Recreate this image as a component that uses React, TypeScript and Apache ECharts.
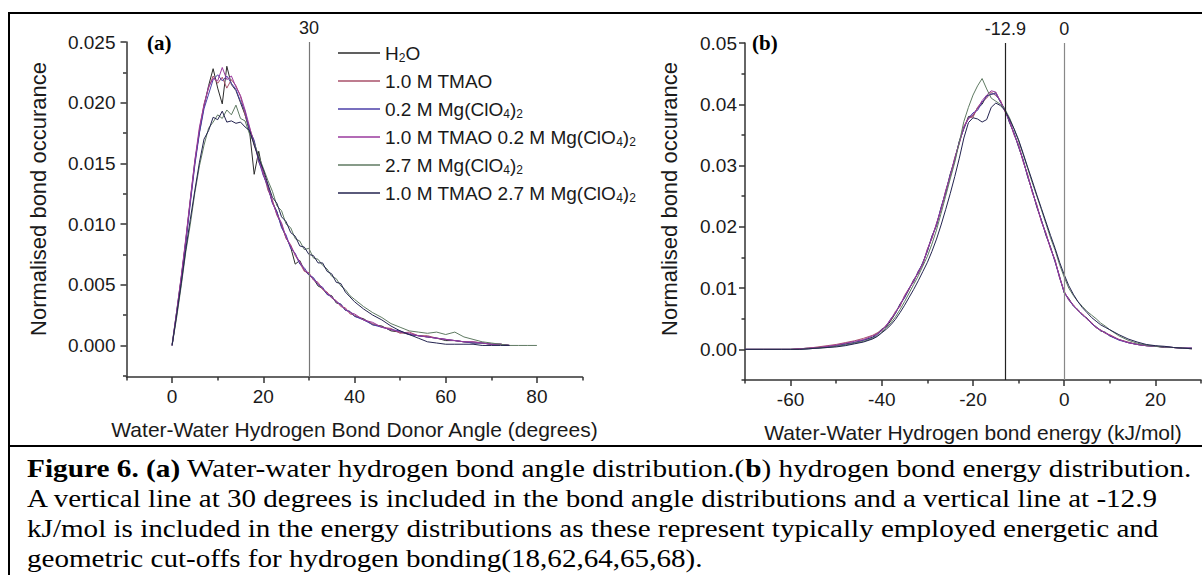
import React, { useEffect, useRef } from "react";
import * as echarts from "echarts";

// ---------- data ----------
const angleX = [0,1,2,3,4,5,6,7,8,9,10,11,12,13,14,15,16,17,18,19,20,21,22,23,24,25,26,27,28,29,30,31,32,33,34,35,36,37,38,39,40,42,44,46,48,50,52,54,56,58,60,62,64,66,68,70,72,74,76,78,80];

const angleH2O = [0.0001,0.0028,0.0056,0.0086,0.0120,0.0152,0.0176,0.0197,0.0214,0.0228,0.0212,0.0199,0.0230,0.0215,0.0210,0.0200,0.0190,0.0176,0.0141,0.0160,0.0141,0.0131,0.0118,0.0110,0.0098,0.0089,0.0081,0.0067,0.0070,0.0062,0.0058,0.0055,0.0049,0.0047,0.0042,0.0041,0.0035,0.0034,0.0029,0.0028,0.0024,0.0022,0.0017,0.0016,0.0012,0.0011,0.0009,0.0008,0.0007,0.0006,0.0004,0.0004,0.0003,0.0002,0.0002,0.0001,0.0001,0.0000];
const angleTMAO = [0,0.0026,0.0055,0.0087,0.0119,0.0150,0.0178,0.0199,0.0212,0.0222,0.0216,0.0221,0.0212,0.0219,0.0214,0.0205,0.0190,0.0179,0.0168,0.0151,0.0143,0.0128,0.0120,0.0107,0.0100,0.0088,0.0083,0.0074,0.0068,0.0061,0.0060,0.0054,0.0052,0.0046,0.0044,0.0039,0.0037,0.0032,0.0031,0.0026,0.0025,0.0021,0.0018,0.0015,0.0014,0.0010,0.0011,0.0008,0.0008,0.0006,0.0005,0.0004,0.0003,0.0003,0.0002,0.0001,0.0001,0];
const angleMg02 = [0,0.0027,0.0054,0.0084,0.0117,0.0149,0.0175,0.0195,0.0207,0.0219,0.0223,0.0218,0.0222,0.0216,0.0211,0.0201,0.0193,0.0177,0.0169,0.0152,0.0140,0.0131,0.0117,0.0110,0.0097,0.0091,0.0080,0.0076,0.0067,0.0064,0.0058,0.0056,0.0050,0.0048,0.0042,0.0040,0.0036,0.0034,0.0029,0.0028,0.0024,0.0021,0.0017,0.0015,0.0013,0.0012,0.0009,0.0008,0.0007,0.0006,0.0005,0.0004,0.0003,0.0002,0.0002,0.0001,0.0001,0];
const angleTMAOMg02 = [0,0.0028,0.0057,0.0088,0.0121,0.0153,0.0180,0.0198,0.0213,0.0220,0.0218,0.0229,0.0219,0.0222,0.0213,0.0206,0.0194,0.0180,0.0165,0.0155,0.0141,0.0132,0.0118,0.0108,0.0101,0.0089,0.0082,0.0075,0.0069,0.0062,0.0059,0.0054,0.0051,0.0047,0.0043,0.0040,0.0036,0.0033,0.0030,0.0027,0.0026,0.0021,0.0019,0.0015,0.0013,0.0011,0.0010,0.0008,0.0007,0.0006,0.0005,0.0004,0.0003,0.0003,0.0002,0.0001,0.0001,0];
const angleMg27 = [0,0.0023,0.0049,0.0077,0.0100,0.0126,0.0148,0.0165,0.0179,0.0184,0.0190,0.0187,0.0194,0.0190,0.0198,0.0187,0.0185,0.0174,0.0167,0.0156,0.0146,0.0136,0.0127,0.0115,0.0111,0.0100,0.0097,0.0088,0.0086,0.0079,0.0080,0.0072,0.0071,0.0066,0.0063,0.0057,0.0055,0.0049,0.0046,0.0041,0.0038,0.0032,0.0027,0.0023,0.0018,0.0015,0.0012,0.0011,0.0010,0.0011,0.0009,0.0011,0.0007,0.0005,0.0003,0.0002,0.0001,0,0,0,0];
const angleTMAOMg27 = [0,0.0025,0.0051,0.0079,0.0104,0.0128,0.0151,0.0170,0.0177,0.0188,0.0186,0.0193,0.0184,0.0185,0.0183,0.0184,0.0180,0.0177,0.0165,0.0154,0.0145,0.0133,0.0122,0.0117,0.0106,0.0102,0.0093,0.0090,0.0082,0.0081,0.0075,0.0074,0.0068,0.0068,0.0061,0.0059,0.0052,0.0051,0.0044,0.0040,0.0036,0.0030,0.0025,0.0021,0.0016,0.0012,0.0009,0.0006,0.0003,0.0002,0.0001,0.0001,0.0001,0.0001,0,0,0,0];

const energyX = [-70,-66,-62,-60,-58,-56,-54,-52,-50,-48,-46,-44,-42,-41,-40,-39,-38,-37,-36,-35,-34,-33,-32,-31,-30,-29,-28,-27,-26,-25,-24,-23,-22,-21,-20,-19,-18,-17,-16,-15,-14,-13,-12,-11,-10,-9,-8,-7,-6,-5,-4,-3,-2,-1,0,1,2,3,4,5,6,7,8,9,10,12,14,16,18,20,22,24,26,28];

const energyH2O = [0,0,0,0,0.0001,0.0002,0.0003,0.0004,0.0006,0.0009,0.0011,0.0015,0.0020,0.0026,0.0033,0.0037,0.0047,0.0059,0.0074,0.0085,0.0098,0.0114,0.0124,0.0142,0.0160,0.0185,0.0202,0.0231,0.0255,0.0286,0.0309,0.0340,0.0360,0.0380,0.0381,0.0394,0.0400,0.0414,0.0416,0.0419,0.0404,0.0392,0.0370,0.0353,0.0330,0.0309,0.0281,0.0259,0.0232,0.0211,0.0186,0.0167,0.0143,0.0119,0.0092,0.0083,0.0071,0.0065,0.0056,0.0051,0.0042,0.0037,0.0030,0.0028,0.0022,0.0016,0.0011,0.0008,0.0006,0.0005,0.0003,0.0003,0.0002,0.0002];
const energyTMAO = [0,0,0,0,0.0001,0.0002,0.0004,0.0006,0.0008,0.0011,0.0014,0.0018,0.0023,0.0027,0.0030,0.0040,0.0048,0.0062,0.0070,0.0088,0.0100,0.0110,0.0128,0.0138,0.0164,0.0181,0.0206,0.0228,0.0259,0.0282,0.0313,0.0336,0.0364,0.0378,0.0379,0.0395,0.0404,0.0410,0.0420,0.0414,0.0407,0.0388,0.0374,0.0350,0.0334,0.0306,0.0285,0.0256,0.0236,0.0208,0.0190,0.0164,0.0146,0.0116,0.0095,0.0080,0.0073,0.0063,0.0058,0.0049,0.0044,0.0035,0.0032,0.0026,0.0024,0.0016,0.0012,0.0008,0.0006,0.0005,0.0004,0.0003,0.0002,0.0001];
const energyMg02 = [0,0,0,0,0,0.0001,0.0002,0.0004,0.0006,0.0008,0.0011,0.0015,0.0019,0.0024,0.0031,0.0038,0.0050,0.0059,0.0073,0.0084,0.0100,0.0111,0.0127,0.0141,0.0161,0.0184,0.0203,0.0232,0.0256,0.0285,0.0310,0.0339,0.0361,0.0377,0.0386,0.0390,0.0403,0.0413,0.0417,0.0417,0.0404,0.0391,0.0371,0.0353,0.0331,0.0309,0.0282,0.0259,0.0233,0.0211,0.0187,0.0166,0.0143,0.0117,0.0093,0.0081,0.0071,0.0064,0.0056,0.0050,0.0042,0.0036,0.0031,0.0027,0.0022,0.0015,0.0011,0.0008,0.0006,0.0005,0.0004,0.0003,0.0002,0.0002];
const energyTMAOMg02 = [0,0,0,0,0.0001,0.0002,0.0003,0.0005,0.0007,0.0010,0.0013,0.0016,0.0022,0.0025,0.0032,0.0039,0.0050,0.0060,0.0072,0.0087,0.0099,0.0113,0.0125,0.0140,0.0163,0.0182,0.0205,0.0229,0.0258,0.0283,0.0312,0.0337,0.0363,0.0376,0.0383,0.0393,0.0406,0.0415,0.0422,0.0420,0.0405,0.0389,0.0373,0.0351,0.0333,0.0307,0.0284,0.0257,0.0235,0.0209,0.0189,0.0165,0.0145,0.0118,0.0094,0.0082,0.0072,0.0064,0.0057,0.0050,0.0043,0.0036,0.0031,0.0027,0.0023,0.0016,0.0011,0.0008,0.0006,0.0005,0.0004,0.0003,0.0002,0.0002];
const energyMg27 = [0,0,0,0,0,0.0001,0.0002,0.0003,0.0005,0.0007,0.0010,0.0013,0.0018,0.0022,0.0028,0.0035,0.0043,0.0053,0.0065,0.0078,0.0092,0.0106,0.0120,0.0136,0.0152,0.0172,0.0195,0.0222,0.0250,0.0278,0.0305,0.0338,0.0372,0.0395,0.0415,0.0430,0.0442,0.0425,0.0410,0.0405,0.0400,0.0392,0.0378,0.0360,0.0340,0.0318,0.0295,0.0272,0.0250,0.0228,0.0205,0.0182,0.0162,0.0138,0.0118,0.0100,0.0088,0.0078,0.0070,0.0062,0.0056,0.0050,0.0043,0.0038,0.0032,0.0022,0.0015,0.0010,0.0007,0.0005,0.0004,0.0003,0.0002,0.0001];
const energyTMAOMg27 = [0,0,0,0,0,0.0001,0.0002,0.0003,0.0004,0.0006,0.0009,0.0012,0.0017,0.0021,0.0027,0.0033,0.0040,0.0049,0.0060,0.0072,0.0085,0.0098,0.0112,0.0127,0.0142,0.0160,0.0180,0.0203,0.0228,0.0254,0.0282,0.0312,0.0345,0.0370,0.0378,0.0376,0.0371,0.0375,0.0395,0.0402,0.0398,0.0390,0.0376,0.0360,0.0342,0.0320,0.0297,0.0275,0.0252,0.0230,0.0208,0.0186,0.0165,0.0142,0.0122,0.0104,0.0090,0.0078,0.0068,0.0060,0.0052,0.0046,0.0040,0.0036,0.0032,0.0024,0.0017,0.0012,0.0008,0.0006,0.0005,0.0003,0.0002,0.0001];

const seriesNames = [
  "H2O",
  "1.0 M TMAO",
  "0.2 M Mg(ClO4)2",
  "1.0 M TMAO 0.2 M Mg(ClO4)2",
  "2.7 M Mg(ClO4)2",
  "1.0 M TMAO 2.7 M Mg(ClO4)2",
];
const seriesColors = ["#2b2b2b", "#a8506a", "#4b3fa8", "#9a3a9e", "#5f7a62", "#23234f"];

const angleSeries = [angleH2O, angleTMAO, angleMg02, angleTMAOMg02, angleMg27, angleTMAOMg27];
const energySeries = [energyH2O, energyTMAO, energyMg02, energyTMAOMg02, energyMg27, energyTMAOMg27];

const angleMajorTicks = [0, 20, 40, 60, 80];
const angleMinorTicks = [-10, 10, 30, 50, 70, 90];
const angleYMajor = [0, 0.005, 0.01, 0.015, 0.02, 0.025];
const angleYMinor = [-0.0025, 0.0025, 0.0075, 0.0125, 0.0175, 0.0225];
const energyMajorTicks = [-60, -40, -20, 0, 20];
const energyMinorTicks = [-70, -50, -30, -10, 10, 30];
const energyYMajor = [0, 0.01, 0.02, 0.03, 0.04, 0.05];
const energyYMinor = [-0.005, 0.005, 0.015, 0.025, 0.035, 0.045];

const angleCutoff = 30;
const energyCutoffs = [-12.9, 0];

const captionLines = [
  "{b|Figure 6. (a)} Water-water hydrogen bond angle distribution.({b|b}) hydrogen bond energy distribution.",
  "A vertical line at 30 degrees is included in the bond angle distributions and a vertical line at -12.9",
  "kJ/mol is included in the energy distributions as these represent typically employed energetic and",
  "geometric cut-offs for hydrogen bonding(18,62,64,65,68).",
];
const captionScaleX = [1.172, 1.162, 1.165, 1.164];

const SANS = '"Liberation Sans", Arial, sans-serif';
const SERIF = '"Liberation Serif", "Times New Roman", serif';
const AXIS_COLOR = "#333";
const TEXT_COLOR = "#1a1a1a";

function richName(name: string) {
  return name.replace("H2O", "H{s|2}O").replace("ClO4)2", "ClO{s|4}){s|2}");
}

function valueAxis(opts: any) {
  const { gridIndex, min, max, position, ticks, labels, tickLen, showLine, labelFmt, margin, name, nameGap } = opts;
  return {
    type: "value",
    gridIndex,
    min,
    max,
    position,
    splitLine: { show: false },
    axisLine: { show: showLine, onZero: false, lineStyle: { color: AXIS_COLOR, width: 1.5 } },
    axisTick: { show: true, inside: false, length: tickLen, customValues: ticks, lineStyle: { color: AXIS_COLOR, width: 1.5 } },
    axisLabel: labels
      ? { show: true, customValues: labels, formatter: labelFmt, margin, fontSize: 19, color: TEXT_COLOR, fontFamily: SANS }
      : { show: false },
    name: name || "",
    nameLocation: "middle",
    nameGap: nameGap || 0,
    nameTextStyle: { fontSize: 21, color: TEXT_COLOR, fontFamily: SANS },
  };
}

export default function App() {
  const ref = useRef<HTMLDivElement>(null);
  useEffect(() => {
    if (!ref.current) return;
    const chart = echarts.init(ref.current, undefined, { renderer: "svg" });

    const series: any[] = [];
    angleSeries.forEach((ys, i) => {
      const s: any = {
        type: "line",
        name: seriesNames[i],
        xAxisIndex: 0,
        yAxisIndex: 0,
        symbol: "none",
        silent: true,
        data: angleX.map((x, j) => [x, ys[j]]).filter((d) => d[1] !== undefined),
        lineStyle: { width: 1, color: seriesColors[i] },
        itemStyle: { color: seriesColors[i] },
      };
      if (i === 0) {
        s.markLine = {
          silent: true,
          symbol: ["none", "none"],
          animation: false,
          data: [{ xAxis: angleCutoff }],
          lineStyle: { color: "#777", width: 1.2, type: "solid" },
          label: { show: true, position: "end", formatter: String(angleCutoff), fontSize: 18, color: TEXT_COLOR, distance: 5, fontFamily: SANS },
        };
      }
      series.push(s);
    });
    energySeries.forEach((ys, i) => {
      const s: any = {
        type: "line",
        name: seriesNames[i],
        xAxisIndex: 2,
        yAxisIndex: 2,
        symbol: "none",
        silent: true,
        data: energyX.map((x, j) => [x, ys[j]]).filter((d) => d[1] !== undefined),
        lineStyle: { width: 1, color: seriesColors[i] },
        itemStyle: { color: seriesColors[i] },
      };
      if (i === 0) {
        s.markLine = {
          silent: true,
          symbol: ["none", "none"],
          animation: false,
          data: energyCutoffs.map((v, k) => ({
            xAxis: v,
            lineStyle: { color: k === 0 ? "#222" : "#888", width: 1.2, type: "solid" },
            label: { formatter: String(v) },
          })),
          label: { show: true, position: "end", fontSize: 18, color: TEXT_COLOR, distance: 5, fontFamily: SANS },
        };
      }
      series.push(s);
    });

    const option: any = {
      animation: false,
      backgroundColor: "#fff",
      grid: [
        { left: 126.5, top: 42, width: 456, height: 335 },
        { left: 745, top: 43, width: 456, height: 337 },
      ],
      xAxis: [
        valueAxis({ gridIndex: 0, min: -10, max: 90, position: "bottom", ticks: angleMajorTicks, labels: angleMajorTicks, tickLen: 6, showLine: true, margin: 10, labelFmt: (v: number) => String(v), name: "Water-Water Hydrogen Bond Donor Angle (degrees)", nameGap: 42 }),
        valueAxis({ gridIndex: 0, min: -10, max: 90, position: "bottom", ticks: angleMinorTicks, tickLen: 3.5, showLine: false }),
        valueAxis({ gridIndex: 1, min: -70, max: 30, position: "bottom", ticks: energyMajorTicks, labels: energyMajorTicks, tickLen: 6, showLine: true, margin: 10, labelFmt: (v: number) => String(v), name: "Water-Water Hydrogen bond energy (kJ/mol)", nameGap: 42 }),
        valueAxis({ gridIndex: 1, min: -70, max: 30, position: "bottom", ticks: energyMinorTicks, tickLen: 3.5, showLine: false }),
      ],
      yAxis: [
        valueAxis({ gridIndex: 0, min: -0.0026, max: 0.025, position: "left", ticks: angleYMajor, labels: angleYMajor, tickLen: 6, showLine: true, margin: 11, labelFmt: (v: number) => v.toFixed(3) }),
        valueAxis({ gridIndex: 0, min: -0.0026, max: 0.025, position: "left", ticks: angleYMinor, tickLen: 3.5, showLine: false }),
        valueAxis({ gridIndex: 1, min: -0.005, max: 0.05, position: "left", ticks: energyYMajor, labels: energyYMajor, tickLen: 6, showLine: true, margin: 8, labelFmt: (v: number) => v.toFixed(2) }),
        valueAxis({ gridIndex: 1, min: -0.005, max: 0.05, position: "left", ticks: energyYMinor, tickLen: 3.5, showLine: false }),
      ],
      legend: {
        orient: "vertical",
        left: 333,
        top: 37,
        icon: "rect",
        itemWidth: 42,
        itemHeight: 1.5,
        itemGap: 6,
        selectedMode: false,
        data: seriesNames,
        formatter: (name: string) => richName(name),
        textStyle: {
          fontSize: 19,
          lineHeight: 22,
          color: TEXT_COLOR,
          fontFamily: SANS,
          rich: {
            s: { fontSize: 12, lineHeight: 8, verticalAlign: "bottom", color: TEXT_COLOR, fontFamily: SANS },
          },
        },
      },
      graphic: [
        { type: "rect", silent: true, shape: { x: 8, y: 12, width: 1194, height: 2 }, style: { fill: "#000" } },
        { type: "rect", silent: true, shape: { x: 8, y: 12, width: 2, height: 563 }, style: { fill: "#000" } },
        { type: "rect", silent: true, shape: { x: 8, y: 445, width: 1194, height: 2 }, style: { fill: "#000" } },
        { type: "text", silent: true, x: 147, y: 43, style: { text: "(a)", font: `bold 21px ${SERIF}`, fill: "#000", textVerticalAlign: "middle" } },
        { type: "text", silent: true, x: 752, y: 43, style: { text: "(b)", font: `bold 21px ${SERIF}`, fill: "#000", textVerticalAlign: "middle" } },
        { type: "text", silent: true, x: 38, y: 199, rotation: Math.PI / 2, style: { text: "Normalised bond occurance", font: `22px ${SANS}`, fill: TEXT_COLOR, textAlign: "center", textVerticalAlign: "middle" } },
        { type: "text", silent: true, x: 669, y: 199, rotation: Math.PI / 2, style: { text: "Normalised bond occurance", font: `22px ${SANS}`, fill: TEXT_COLOR, textAlign: "center", textVerticalAlign: "middle" } },
        ...captionLines.map((t, i) => ({
          type: "text",
          silent: true,
          x: 27,
          y: 468.3 + i * 30,
          scaleX: captionScaleX[i],
          style: {
            text: t,
            font: `25px ${SERIF}`,
            fill: "#000",
            textVerticalAlign: "middle",
            rich: { b: { fontWeight: "bold", fontSize: 25, fontFamily: SERIF, fill: "#000" } },
          },
        })),
      ],
      series,
    };
    chart.setOption(option);
    return () => chart.dispose();
  }, []);
  return (
    <div
      ref={ref}
      style={{ position: "absolute", left: 0, top: 0, width: 1202, height: 575, background: "#fff" }}
    />
  );
}
